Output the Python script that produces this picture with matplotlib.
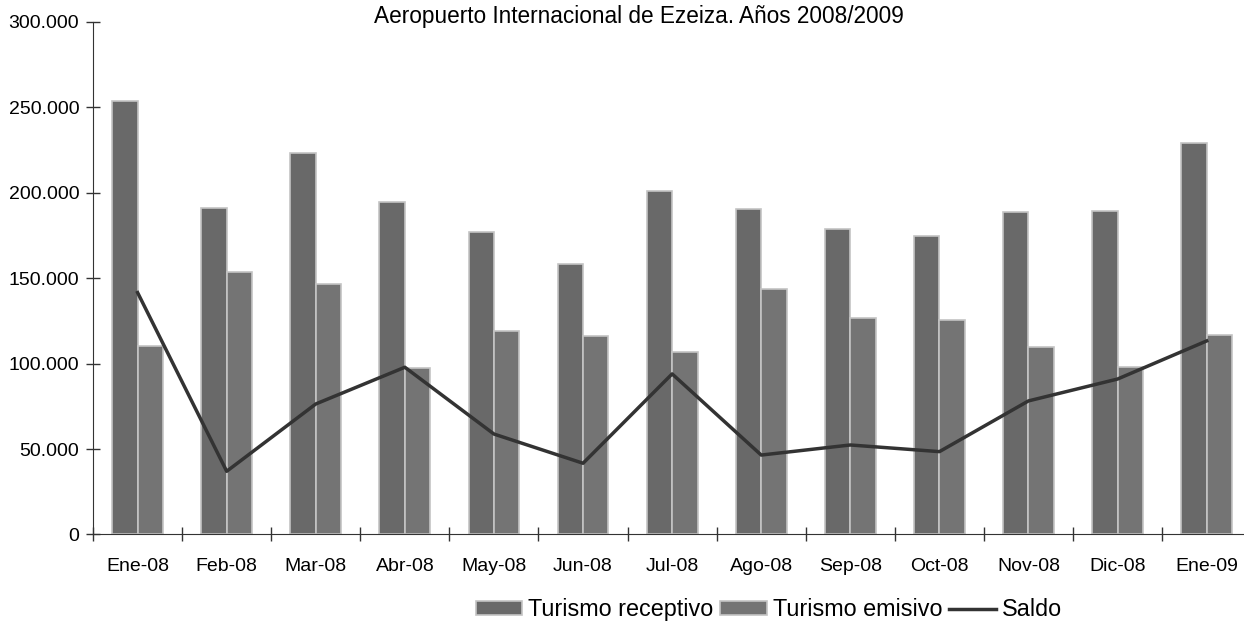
import numpy as np
import matplotlib.pyplot as plt
from matplotlib.ticker import FuncFormatter, FixedLocator

meses = ['Ene-08', 'Feb-08', 'Mar-08', 'Abr-08', 'May-08', 'Jun-08', 'Jul-08',
         'Ago-08', 'Sep-08', 'Oct-08', 'Nov-08', 'Dic-08', 'Ene-09']
receptivo = [254000, 191000, 223500, 194800, 177300, 158200, 201300,
             190600, 179000, 174900, 189000, 189600, 229400]
emisivo = [110500, 153900, 146500, 97700, 119100, 116000, 106700,
           143600, 126600, 125600, 109600, 97900, 117000]
saldo = [141600, 37000, 76400, 97900, 58800, 41700, 94000,
         46500, 52400, 48500, 78200, 91000, 113300]

plt.rcParams['font.family'] = ['Liberation Sans', 'DejaVu Sans']

fig = plt.figure(figsize=(12.44, 6.21), dpi=100)
ax = fig.add_axes([0.0748, 0.1393, 0.931, 0.8253])

x = np.arange(len(meses))
w = 0.285
b1 = ax.bar(x - w / 2, receptivo, w, color='#696969', edgecolor='#c4c4c4',
            linewidth=1.2, label='Turismo receptivo', zorder=2)
b2 = ax.bar(x + w / 2, emisivo, w, color='#747474', edgecolor='#c4c4c4',
            linewidth=1.2, label='Turismo emisivo', zorder=2)
l1, = ax.plot(x, saldo, color='#333333', linewidth=2.5, label='Saldo', zorder=3)

ax.set_xlim(-0.5, len(meses) - 0.5)
ax.set_ylim(0, 300000)
ax.set_yticks(range(0, 300001, 50000))
ax.yaxis.set_major_formatter(FuncFormatter(lambda v, p: f'{int(v):,}'.replace(',', '.')))

ax.set_xticks(x)
ax.set_xticklabels(meses)
ax.xaxis.set_minor_locator(FixedLocator(np.arange(-0.5, len(meses), 1)))
ax.tick_params(axis='x', which='major', length=0, pad=17, labelsize=14)
ax.tick_params(axis='x', which='minor', length=10, direction='inout',
               width=1, color='#333333')
ax.tick_params(axis='y', length=10, direction='inout', width=1, color='#333333',
               labelsize=14, pad=5)

for s in ['top', 'right']:
    ax.spines[s].set_visible(False)
ax.spines['left'].set_color('#333333')
ax.spines['bottom'].set_color('#333333')

fig.text(0.514, 0.974, 'Aeropuerto Internacional de Ezeiza. Años 2008/2009',
         ha='center', va='center', fontsize=16.3)

fig.legend(handles=[b1, b2, l1], loc='center', bbox_to_anchor=(0.618, 0.018),
           ncol=3, frameon=False, fontsize=16.8, handlelength=2.0,
           handleheight=0.5, handletextpad=0.25, columnspacing=0.3, borderpad=0)

fig.savefig('out.png', dpi=100)
